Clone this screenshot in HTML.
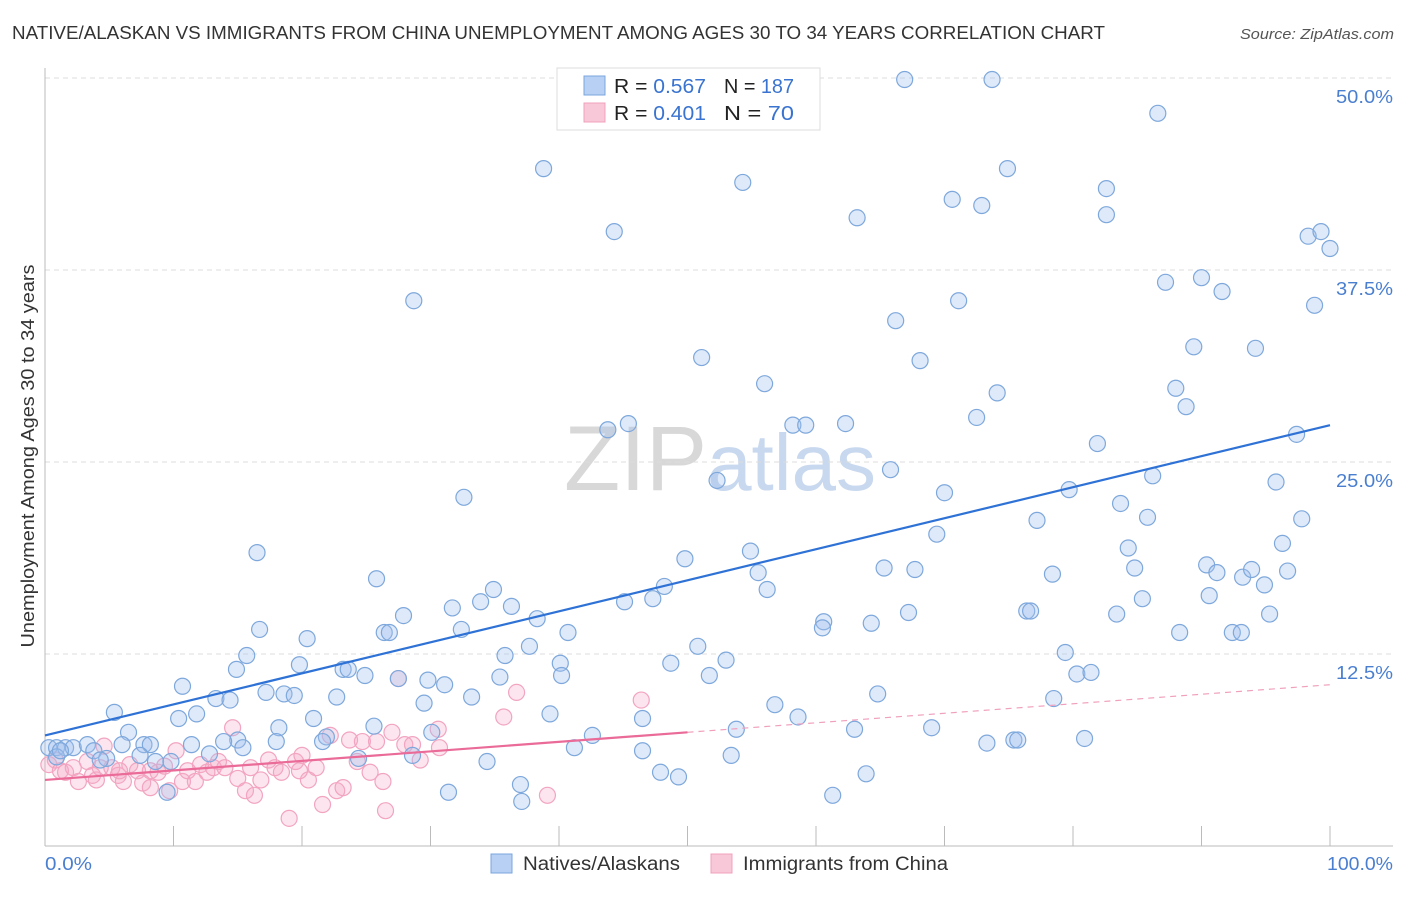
<!DOCTYPE html>
<html><head><meta charset="utf-8"><style>
body{margin:0;background:#fff;font-family:"Liberation Sans",sans-serif}
svg text{font-family:"Liberation Sans",sans-serif}
</style></head><body>
<svg id="chart" width="1406" height="892" xmlns="http://www.w3.org/2000/svg">
<text x="12" y="39" font-size="18" fill="#333" textLength="1093" lengthAdjust="spacingAndGlyphs">NATIVE/ALASKAN VS IMMIGRANTS FROM CHINA UNEMPLOYMENT AMONG AGES 30 TO 34 YEARS CORRELATION CHART</text>
<text x="1240" y="39" font-size="15" fill="#555" font-style="italic" textLength="154" lengthAdjust="spacingAndGlyphs">Source: ZipAtlas.com</text>
<text x="720" y="490" font-size="92" text-anchor="middle" fill="#ddd" font-family="Liberation Serif"><tspan fill="#d8d8d8">ZIP</tspan><tspan fill="#c8d8ee" font-family="Liberation Sans" font-size="80">atlas</tspan></text>
<g id="grid"></g>
<g id="axes"></g>
<g id="pts"></g>
<g id="trend"></g>
<text transform="translate(34,456) rotate(-90)" font-size="18" fill="#333" text-anchor="middle" textLength="383" lengthAdjust="spacingAndGlyphs">Unemployment Among Ages 30 to 34 years</text>
<text x="45" y="870" font-size="18" fill="#4a7fd0" textLength="47" lengthAdjust="spacingAndGlyphs">0.0%</text>
<text x="1327" y="870" font-size="18" fill="#4a7fd0" textLength="66" lengthAdjust="spacingAndGlyphs">100.0%</text>
<g>
<rect x="557" y="68" width="263" height="62" fill="#fff" stroke="#ddd"/>
<rect x="584" y="76" width="21" height="19" fill="#b8d0f4" stroke="#7aa6dd"/>
<rect x="584" y="103" width="21" height="19" fill="#f9c8d8" stroke="#f0a0bd"/>
<text x="614" y="93" font-size="20" fill="#222" textLength="92" lengthAdjust="spacingAndGlyphs">R = <tspan fill="#3a74d0">0.567</tspan></text>
<text x="724" y="93" font-size="20" fill="#222" textLength="70" lengthAdjust="spacingAndGlyphs">N = <tspan fill="#3a74d0">187</tspan></text>
<text x="614" y="120" font-size="20" fill="#222" textLength="92" lengthAdjust="spacingAndGlyphs">R = <tspan fill="#3a74d0">0.401</tspan></text>
<text x="724" y="120" font-size="20" fill="#222" textLength="70" lengthAdjust="spacingAndGlyphs">N = <tspan fill="#3a74d0"> 70</tspan></text>
</g>
<g>
<rect x="491" y="854" width="21" height="19" fill="#b8d0f4" stroke="#7aa6dd"/>
<text x="523" y="870" font-size="19" fill="#333" textLength="157" lengthAdjust="spacingAndGlyphs">Natives/Alaskans</text>
<rect x="711" y="854" width="21" height="19" fill="#f9c8d8" stroke="#f0a0bd"/>
<text x="743" y="870" font-size="19" fill="#333" textLength="205" lengthAdjust="spacingAndGlyphs">Immigrants from China</text>
</g>
</svg>
<script>
const yTicks=[12.5,25,37.5,50];
const yTickLabels=["12.5%","25.0%","37.5%","50.0%"];
const xTicks=[0,10,20,30,40,50,60,70,80,90,100];
const blueTrend=[[0,7.2],[100,27.4]];
const pinkTrendSolid=[[0,4.3],[50,7.4]];
const pinkTrendDashed=[[50,7.4],[100,10.5]];
const blueX=[66.9,73.7,86.6,38.8,54.3,74.9,82.6,70.6,72.9,82.6,63.2,44.3,98.3,99.3,100,28.7,87.2,90.0,91.6,98.8,71.1,66.2,51.1,68.1,89.4,94.2,56.0,88.0,74.1,88.8,72.5,45.4,43.8,58.2,59.2,62.3,81.9,97.4,65.8,52.3,86.2,95.8,32.6,70.0,79.7,83.7,85.8,97.8,77.2,69.4,16.5,54.9,84.3,96.3,49.8,65.3,67.7,55.5,84.8,78.4,90.4,91.2,93.2,93.9,96.7,25.8,94.9,34.9,48.2,56.2,45.1,47.3,90.6,85.4,27.9,31.7,33.9,36.3,67.2,38.3,76.4,76.7,83.4,95.3,60.6,64.3,60.5,16.7,32.4,26.4,26.8,40.7,88.3,92.4,93.1,20.4,37.7,50.8,15.7,35.8,79.4,19.8,14.9,23.2,23.6,40.1,48.7,53.0,24.9,40.2,27.5,29.8,31.1,35.4,51.7,80.3,81.4,10.7,17.2,18.6,19.4,22.7,33.2,13.3,14.4,64.8,78.5,29.5,56.8,5.4,10.4,11.8,20.9,39.3,46.5,58.6,25.6,18.2,30.1,6.5,63.0,69.0,53.8,15.0,13.9,18.0,21.9,21.6,42.6,80.9,75.4,75.7,73.3,6.0,7.7,8.2,0.3,0.9,1.6,2.2,3.3,3.8,4.8,7.4,11.4,15.4,12.8,28.6,24.4,4.3,41.2,46.5,53.4,8.6,34.4,9.8,47.9,49.3,63.9,37.0,31.4,37.1,9.5,61.3,0.9,1.2];
const blueY=[49.9,49.9,47.7,44.1,43.2,44.1,42.8,42.1,41.7,41.1,40.9,40.0,39.7,40.0,38.9,35.5,36.7,37.0,36.1,35.2,35.5,34.2,31.8,31.6,32.5,32.4,30.1,29.8,29.5,28.6,27.9,27.5,27.1,27.4,27.4,27.5,26.2,26.8,24.5,23.8,24.1,23.7,22.7,23.0,23.2,22.3,21.4,21.3,21.2,20.3,19.1,19.2,19.4,19.7,18.7,18.1,18.0,17.8,18.1,17.7,18.3,17.8,17.5,18.0,17.9,17.4,17.0,16.7,16.9,16.7,15.9,16.1,16.3,16.1,15.0,15.5,15.9,15.6,15.2,14.8,15.3,15.3,15.1,15.1,14.6,14.5,14.2,14.1,14.1,13.9,13.9,13.9,13.9,13.9,13.9,13.5,13.0,13.0,12.4,12.4,12.6,11.8,11.5,11.5,11.5,11.9,11.9,12.1,11.1,11.1,10.9,10.8,10.5,11.0,11.1,11.2,11.3,10.4,10.0,9.9,9.8,9.7,9.7,9.6,9.5,9.9,9.6,9.3,9.2,8.7,8.3,8.6,8.3,8.6,8.3,8.4,7.8,7.7,7.4,7.4,7.6,7.7,7.6,6.9,6.8,6.8,7.1,6.8,7.2,7.0,6.9,6.9,6.7,6.6,6.6,6.6,6.4,6.4,6.4,6.4,6.6,6.2,5.7,5.9,6.6,6.4,6.0,5.9,5.7,5.6,6.4,6.2,5.9,5.5,5.5,5.5,4.8,4.5,4.7,4.0,3.5,2.9,3.5,3.3,5.8,6.2];
const pinkX=[0.3,0.8,1.2,1.6,2.2,2.6,3.3,3.7,4.0,4.6,5.2,5.7,6.1,6.6,7.2,7.6,8.2,8.8,9.3,9.7,10.2,10.7,11.1,11.7,12.1,12.6,13.1,13.5,14.0,14.6,15.0,15.6,16.0,16.3,16.8,17.4,17.9,18.4,19.0,19.5,20.0,20.5,21.1,21.6,22.2,22.7,23.2,23.7,24.3,24.7,25.3,25.8,26.3,26.5,27.0,27.5,28.0,28.6,29.2,30.6,30.7,35.7,36.7,39.1,46.4,19.8,4.3,5.8,8.2];
const pinkY=[5.3,5.6,4.9,4.8,5.1,4.2,5.5,4.6,4.3,6.5,5.1,4.6,4.2,5.3,4.9,4.1,3.8,4.8,5.2,3.6,6.2,4.2,4.9,4.2,5.3,4.8,5.1,5.5,5.1,7.7,4.4,3.6,5.1,3.3,4.3,5.6,5.1,4.8,1.8,5.5,5.9,4.3,5.1,2.7,7.2,3.6,3.8,6.9,5.5,6.8,4.8,6.8,4.2,2.3,7.4,10.9,6.6,6.6,5.6,7.6,6.4,8.4,10.0,3.3,9.5,4.9,5.1,4.9,4.9];
const NS='http://www.w3.org/2000/svg';
const X0=45,X1=1330,Y0=846,PXPER=15.36;
function sx(v){return X0+(X1-X0)*v/100;}
function sy(v){return Y0-v*PXPER;}
function mk(tag,attrs,parent){const e=document.createElementNS(NS,tag);for(const k in attrs)e.setAttribute(k,attrs[k]);parent.appendChild(e);return e;}
const grid=document.getElementById('grid'),axes=document.getElementById('axes'),pts=document.getElementById('pts'),trend=document.getElementById('trend');
yTicks.forEach((t,i)=>{
 const l=mk('line',{x1:X0,x2:1393,y1:sy(t),y2:sy(t),stroke:'#ddd','stroke-dasharray':'5,4'},grid);
 
 
 const tx=mk('text',{x:1336,y:sy(t)+25,'font-size':18,fill:'#4a7fd0',textLength:57,lengthAdjust:'spacingAndGlyphs'},grid);
 tx.textContent=yTickLabels[i];
 
 
});
const tl=mk('line',{x1:X0,x2:1393,y1:78,y2:78,stroke:'#ddd','stroke-dasharray':'5,4'},grid);


const ax=mk('line',{x1:X0,x2:1393,y1:Y0,y2:Y0,stroke:'#bbb'},axes);


const ay=mk('line',{x1:X0,x2:X0,y1:68,y2:Y0,stroke:'#bbb'},axes);


xTicks.forEach(t=>{
 const k=mk('line',{x1:sx(t),x2:sx(t),y1:826,y2:Y0,stroke:'#bbb'},axes);
 
 
});
pinkX.forEach((x,i)=>{
 const c=mk('circle',{cx:sx(x),cy:sy(pinkY[i]),r:8,fill:'rgba(246,170,200,0.3)',stroke:'#f2a4c0','stroke-width':1.2},pts);
 
 
});
blueX.forEach((x,i)=>{
 const c=mk('circle',{cx:sx(x),cy:sy(blueY[i]),r:8,fill:'rgba(160,192,238,0.35)',stroke:'#7ea8dc','stroke-width':1.2},pts);
 
 
});
const b=mk('line',{x1:sx(blueTrend[0][0]),y1:sy(blueTrend[0][1]),x2:sx(blueTrend[1][0]),y2:sy(blueTrend[1][1]),stroke:'#2f72d6','stroke-width':2.2},trend);


const p=mk('line',{x1:sx(pinkTrendSolid[0][0]),y1:sy(pinkTrendSolid[0][1]),x2:sx(pinkTrendSolid[1][0]),y2:sy(pinkTrendSolid[1][1]),stroke:'#ea6a98','stroke-width':2.2},trend);


const pd=mk('line',{x1:sx(pinkTrendDashed[0][0]),y1:sy(pinkTrendDashed[0][1]),x2:sx(pinkTrendDashed[1][0]),y2:sy(pinkTrendDashed[1][1]),stroke:'#f0a0bd','stroke-width':1.2,'stroke-dasharray':'6,5'},trend);


</script>
</body></html>
